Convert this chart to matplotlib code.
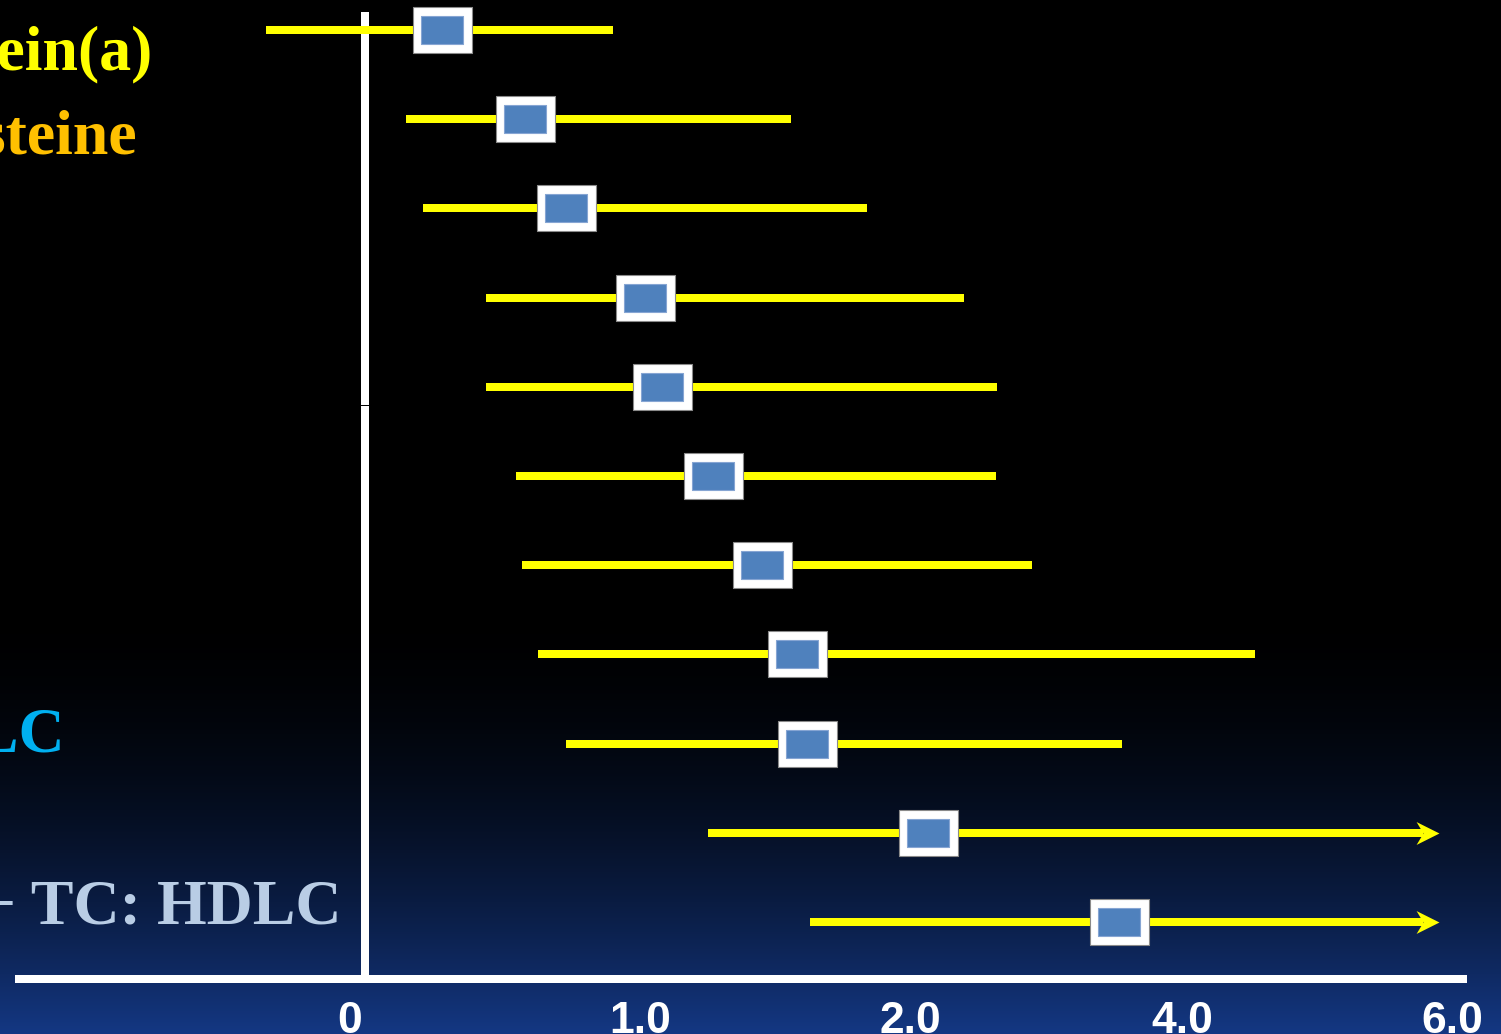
"""
Forest plot slide: relative risk of future cardiovascular events per marker.
Dark slide look: black-to-navy background, yellow CIs, blue/white boxes.
"""

import numpy as np
import matplotlib
matplotlib.use("Agg")
import matplotlib.pyplot as plt
from matplotlib.path import Path

# ---- data (top row first) ----
rows = ["Lipoprotein(a)", "Homocysteine", "IL-6", "TC", "LDLC", "sICAM-1",
        "SAA", "Apo B", "TC: HDLC", "hs-CRP", "hs-CRP + TC: HDLC"]
rr = [0.28, 0.58, 0.73, 1.02, 1.08, 1.27, 1.45, 1.58, 1.62, 2.13, 3.54]
ci_lo = [-0.36, 0.15, 0.21, 0.44, 0.44, 0.55, 0.57, 0.63, 0.73, 1.25, 1.63]
ci_hi = [0.90, 1.56, 1.84, 2.40, 2.64, 2.63, 2.90, 4.54, 3.56, 5.90, 5.90]
open_ended = [False] * 9 + [True, True]   # CI runs off the scale -> arrow

tick_vals = [0, 1, 2, 4, 6]
tick_labels = ["0", "1.0", "2.0", "4.0", "6.0"]

# only a few row labels are visible on the slide (cut off at the left edge)
label_rows = [0, 1, 8, 10]
label_colors = ["#ffff00", "#ffc000", "#00b0f0", "#b9cde5"]

# ---- the slide's axis is not linear: equal spacing for 0,1,2,4,6 ----
TV = np.array(tick_vals, float)
TP = np.array([365, 640, 910, 1182, 1452], float)   # pixel position of each tick


def _lin_interp(v, xs, ys):
    v = np.asarray(v, float)
    out = np.interp(v, xs, ys)
    lo_slope = (ys[1] - ys[0]) / (xs[1] - xs[0])
    hi_slope = (ys[-1] - ys[-2]) / (xs[-1] - xs[-2])
    out = np.where(v < xs[0], ys[0] + (v - xs[0]) * lo_slope, out)
    out = np.where(v > xs[-1], ys[-1] + (v - xs[-1]) * hi_slope, out)
    return out


def fwd(v):
    return _lin_interp(v, TV, TP)


def inv(p):
    return _lin_interp(p, TP, TV)


W, H = 1501, 1034
fig = plt.figure(figsize=(W / 100, H / 100), dpi=100)

# background gradient: black on top, navy towards the bottom
bg = fig.add_axes([0, 0, 1, 1])
yy = np.arange(H)
t = np.clip((yy - 600) / (H - 600), 0, 1) ** 1.9
bottom = np.array([20, 56, 132]) / 255
grad = (t[:, None] * bottom[None, :])[:, None, :]
bg.imshow(grad, aspect="auto", extent=(0, 1, 1, 0))
bg.set_xlim(0, 1)
bg.set_ylim(1, 0)
bg.axis("off")

ax = fig.add_axes([0, 0, 1, 1])
ax.patch.set_alpha(0)
ax.set_xscale("function", functions=(fwd, inv))
ax.set_xlim(float(inv(0)), float(inv(W)))

# rows evenly spaced, row 0 at y=30 px, row 10 at y=922 px
row_px0, row_step = 30, 89.2
ax.set_ylim((H - row_px0) / row_step, -row_px0 / row_step)
ax.axis("off")

yellow = "#ffff00"
lw_px = 8 * 0.72   # 8 px thick lines

# stealth style arrowhead, tip at origin
arrow_path = Path([(0, 0), (-2, 1), (-1.4, 0), (-2, -1), (0, 0)],
                  [Path.MOVETO, Path.LINETO, Path.LINETO, Path.LINETO, Path.CLOSEPOLY])
outer_box = Path([(-1, -0.763), (1, -0.763), (1, 0.763), (-1, 0.763), (-1, -0.763)],
                 [Path.MOVETO, Path.LINETO, Path.LINETO, Path.LINETO, Path.CLOSEPOLY])
inner_box = Path([(-1, -0.69), (1, -0.69), (1, 0.69), (-1, 0.69), (-1, -0.69)],
                 [Path.MOVETO, Path.LINETO, Path.LINETO, Path.LINETO, Path.CLOSEPOLY])

for i in range(len(rows)):
    hi = ci_hi[i]
    if open_ended[i]:
        # stop the shaft at the arrowhead notch
        shaft_end = float(inv(fwd(hi) - 16))
        ax.plot([ci_lo[i], shaft_end], [i, i], color=yellow, lw=lw_px,
                solid_capstyle="butt", zorder=3)
        ax.plot([hi], [i], marker=arrow_path, ms=33, color=yellow, mew=0, zorder=3)
    else:
        ax.plot([ci_lo[i], hi], [i, i], color=yellow, lw=lw_px,
                solid_capstyle="butt", zorder=3)
    ax.plot([rr[i]], [i], marker=outer_box, ms=59 * 0.72, mfc="white",
            mec="#8a8a8a", mew=0.8, zorder=4)
    ax.plot([rr[i]], [i], marker=inner_box, ms=42 * 0.72, mfc="#4f81bd",
            mec="#86a5d3", mew=0.8, zorder=5)

# axes drawn as on the slide
to_row = lambda px: (px - row_px0) / row_step
ax.plot([0, 0], [to_row(12), to_row(404.5)], color="white", lw=lw_px,
        solid_capstyle="butt", zorder=2)
ax.plot([0, 0], [to_row(405.5), to_row(976)], color="white", lw=lw_px,
        solid_capstyle="butt", zorder=2)
ax.plot([float(inv(15)), float(inv(1467))], [to_row(979), to_row(979)],
        color="white", lw=lw_px, solid_capstyle="butt", zorder=2)

for v, lab in zip(tick_vals, tick_labels):
    dx = -15 if v == 0 else 0   # "0" sits a bit left of the line on the slide
    ax.annotate(lab, (v, to_row(1033)), xytext=(dx * 0.72, 0),
                textcoords="offset points", ha="center", va="baseline",
                color="white", fontsize=32, fontweight="bold",
                family="Liberation Sans", annotation_clip=False)

# row labels, cut off by the left edge like the slide
label_pos = {0: (153, 70), 1: (138, 154), 8: (65, 752), 10: (342, 923)}
for r, c in zip(label_rows, label_colors):
    x, y = label_pos[r]
    fig.text(x / W, 1 - y / H, rows[r], ha="right", va="baseline", color=c,
             fontsize=46, fontweight="bold", family="Liberation Serif")

fig.savefig("out.png", dpi=100, facecolor="black")
